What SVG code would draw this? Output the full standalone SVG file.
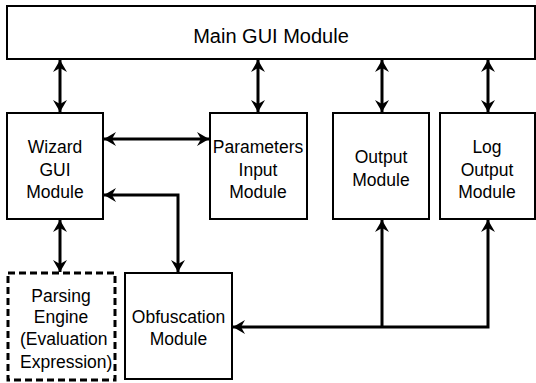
<svg xmlns="http://www.w3.org/2000/svg" width="536" height="383" viewBox="0 0 536 383">
<style>
.box{fill:#fff;stroke:#000;stroke-width:2}
.dash{fill:#fff;stroke:#000;stroke-width:3;stroke-dasharray:7,4}
.t{font-family:"Liberation Sans","Noto Sans CJK JP",sans-serif;font-size:17.5px;fill:#000;text-anchor:middle}
.c{fill:none;stroke:#000;stroke-width:3}
</style>
<defs>
<marker id="ah" markerUnits="userSpaceOnUse" markerWidth="16" markerHeight="16" viewBox="-13 -8 14 16" refX="0" refY="0" orient="auto-start-reverse">
<path d="M0,0 L-12,-7 L-8,0 L-12,7 Z" fill="#000"/>
</marker>
</defs>
<g id="main">
<rect class="box" x="7" y="6" width="528" height="53"/>
<text class="t" x="271" y="43" style="font-size:20px">Main GUI Module</text>
</g>
<g id="wizard">
<rect class="box" x="7" y="113" width="96" height="106"/>
<text class="t" x="55" y="153">Wizard</text>
<text class="t" x="55" y="176">GUI</text>
<text class="t" x="55" y="198">Module</text>
</g>
<g id="params">
<rect class="box" x="210" y="113" width="97" height="106"/>
<text class="t" x="258" y="153">Parameters</text>
<text class="t" x="258" y="176">Input</text>
<text class="t" x="258" y="198">Module</text>
</g>
<g id="output">
<rect class="box" x="333" y="113" width="96" height="106"/>
<text class="t" x="381" y="163">Output</text>
<text class="t" x="381" y="186">Module</text>
</g>
<g id="log">
<rect class="box" x="440" y="113" width="95" height="106"/>
<text class="t" x="487" y="153">Log</text>
<text class="t" x="487" y="176">Output</text>
<text class="t" x="487" y="198">Module</text>
</g>
<g id="parsing">
<rect class="dash" x="8" y="273" width="107" height="107"/>
<text class="t" x="61" y="302">Parsing</text>
<text class="t" x="61" y="323">Engine</text>
<text class="t" x="20" y="345" style="text-anchor:start">(Evaluation</text>
<text class="t" x="20" y="368" style="text-anchor:start">Expression)</text>
</g>
<g id="obfuscation">
<rect class="box" x="125" y="273" width="107" height="106"/>
<text class="t" x="178.5" y="323">Obfuscation</text>
<text class="t" x="178.5" y="345">Module</text>
</g>
<g id="connectors">
<path class="c" d="M60,60 V112" marker-start="url(#ah)" marker-end="url(#ah)"/>
<path class="c" d="M258,60 V112" marker-start="url(#ah)" marker-end="url(#ah)"/>
<path class="c" d="M382,60 V112" marker-start="url(#ah)" marker-end="url(#ah)"/>
<path class="c" d="M488,60 V112" marker-start="url(#ah)" marker-end="url(#ah)"/>
<path class="c" d="M104,139 H209" marker-start="url(#ah)" marker-end="url(#ah)"/>
<path class="c" d="M104,195 H178 V272" marker-start="url(#ah)" marker-end="url(#ah)"/>
<path class="c" d="M60,220 V272" marker-start="url(#ah)" marker-end="url(#ah)"/>
<path class="c" d="M233,327 H488 V220" marker-start="url(#ah)" marker-end="url(#ah)"/>
<path class="c" d="M382,327 V220" marker-end="url(#ah)"/>
</g>
</svg>
